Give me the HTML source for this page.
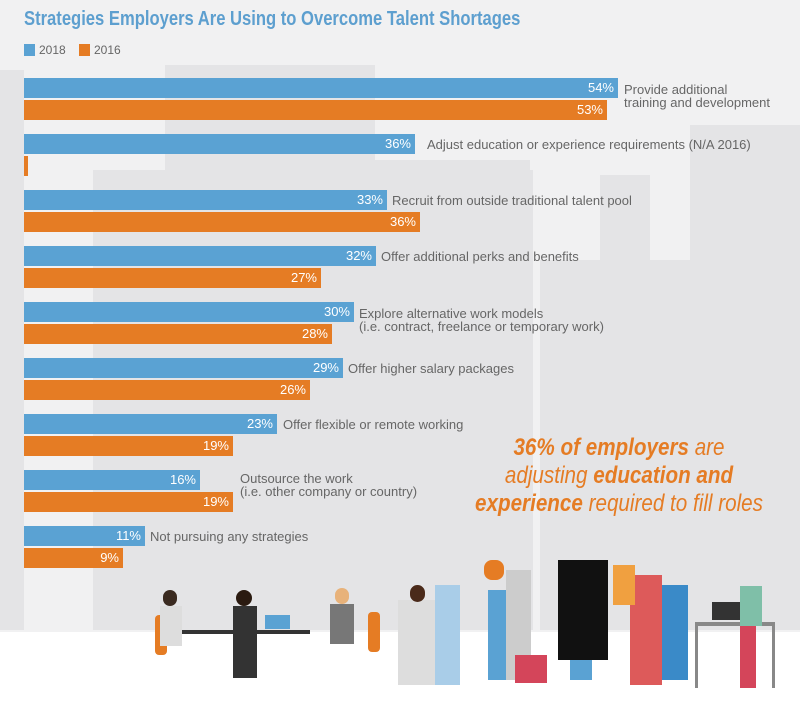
<!DOCTYPE html>
<html><head><meta charset="utf-8"><style>
*{margin:0;padding:0;box-sizing:border-box}
body{width:800px;height:708px;background:#fff;position:relative;overflow:hidden;font-family:"Liberation Sans",sans-serif}
.bg{position:absolute;left:0;top:0;width:800px;height:632px;background:#f1f1f2}
.b{position:absolute;background:#e4e4e6}
.bar{position:absolute;left:24px;height:20px;color:#fff;font-size:13px;text-align:right;padding-right:4px;line-height:20px}
.bl{background:#5aa2d3}.or{background:#e57c24}
.lab{position:absolute;color:#666;font-size:13px;line-height:13px}
.t{position:absolute;left:24px;top:8px;color:#5d9fcf;font-weight:bold;font-size:20px;white-space:nowrap;transform:scaleX(0.83);transform-origin:left top}
.p{position:absolute}
</style></head><body>
<div class="bg"></div>
<div class="b" style="left:0;top:70px;width:24px;height:560px"></div>
<div class="b" style="left:165px;top:65px;width:210px;height:565px"></div>
<div class="b" style="left:93px;top:170px;width:440px;height:460px"></div>
<div class="b" style="left:240px;top:160px;width:290px;height:470px"></div>
<div class="b" style="left:540px;top:260px;width:150px;height:370px"></div>
<div class="b" style="left:600px;top:175px;width:50px;height:90px"></div>
<div class="b" style="left:690px;top:125px;width:110px;height:505px"></div>
<div class="t">Strategies Employers Are Using to Overcome Talent Shortages</div>
<div class="p bl" style="left:24px;top:44px;width:11px;height:12px"></div>
<div class="lab" style="left:39px;top:44px;font-size:12px">2018</div>
<div class="p or" style="left:79px;top:44px;width:11px;height:12px"></div>
<div class="lab" style="left:94px;top:44px;font-size:12px">2016</div>

<div class="bar bl" style="top:78px;width:594px">54%</div>
<div class="bar or" style="top:100px;width:583px">53%</div>
<div class="lab" style="left:624px;top:83px">Provide additional<br>training and development</div>

<div class="bar bl" style="top:134px;width:391px">36%</div>
<div class="bar or" style="top:156px;width:2px"></div>
<div class="lab" style="left:427px;top:138px">Adjust education or experience requirements (N/A 2016)</div>

<div class="bar bl" style="top:190px;width:363px">33%</div>
<div class="bar or" style="top:212px;width:396px">36%</div>
<div class="lab" style="left:392px;top:194px">Recruit from outside traditional talent pool</div>

<div class="bar bl" style="top:246px;width:352px">32%</div>
<div class="bar or" style="top:268px;width:297px">27%</div>
<div class="lab" style="left:381px;top:250px">Offer additional perks and benefits</div>

<div class="bar bl" style="top:302px;width:330px">30%</div>
<div class="bar or" style="top:324px;width:308px">28%</div>
<div class="lab" style="left:359px;top:307px">Explore alternative work models<br>(i.e. contract, freelance or temporary work)</div>

<div class="bar bl" style="top:358px;width:319px">29%</div>
<div class="bar or" style="top:380px;width:286px">26%</div>
<div class="lab" style="left:348px;top:362px">Offer higher salary packages</div>

<div class="bar bl" style="top:414px;width:253px">23%</div>
<div class="bar or" style="top:436px;width:209px">19%</div>
<div class="lab" style="left:283px;top:418px">Offer flexible or remote working</div>

<div class="bar bl" style="top:470px;width:176px">16%</div>
<div class="bar or" style="top:492px;width:209px">19%</div>
<div class="lab" style="left:240px;top:472px">Outsource the work<br>(i.e. other company or country)</div>

<div class="bar bl" style="top:526px;width:121px">11%</div>
<div class="bar or" style="top:548px;width:99px">9%</div>
<div class="lab" style="left:150px;top:530px">Not pursuing any strategies</div>

<div class="p" style="left:619px;top:434px;width:0;height:0">
<div style="position:absolute;left:-220px;width:440px;text-align:center;color:#e57c24;font-size:24px;line-height:28px;font-style:italic;white-space:nowrap;transform:scaleX(0.86);transform-origin:center top"><b>36% of employers</b> are<br>adjusting <b>education and</b><br><b>experience</b> required to fill roles</div></div>

<!-- people -->
<div class="p" style="left:180px;top:630px;width:130px;height:4px;background:#333"></div>
<div class="p" style="left:155px;top:615px;width:12px;height:40px;background:#e57c24;border-radius:4px"></div>
<div class="p" style="left:163px;top:590px;width:14px;height:16px;background:#3a2a20;border-radius:7px"></div>
<div class="p" style="left:160px;top:606px;width:22px;height:40px;background:#ddd"></div>
<div class="p" style="left:236px;top:590px;width:16px;height:16px;background:#2a1a10;border-radius:8px"></div>
<div class="p" style="left:233px;top:606px;width:24px;height:72px;background:#333"></div>
<div class="p" style="left:265px;top:615px;width:25px;height:14px;background:#5aa2d3"></div>
<div class="p" style="left:335px;top:588px;width:14px;height:16px;background:#e8b27a;border-radius:7px"></div>
<div class="p" style="left:330px;top:604px;width:24px;height:40px;background:#777"></div>
<div class="p" style="left:368px;top:612px;width:12px;height:40px;background:#e57c24;border-radius:4px"></div>
<div class="p" style="left:398px;top:600px;width:40px;height:85px;background:#ddd"></div>
<div class="p" style="left:410px;top:585px;width:15px;height:17px;background:#4a2a1a;border-radius:8px"></div>
<div class="p" style="left:435px;top:585px;width:25px;height:100px;background:#a9cde8"></div>
<div class="p" style="left:484px;top:560px;width:20px;height:20px;background:#e57c24;border-radius:8px"></div>
<div class="p" style="left:488px;top:590px;width:20px;height:90px;background:#5aa2d3"></div>
<div class="p" style="left:506px;top:570px;width:25px;height:110px;background:#ccc"></div>
<div class="p" style="left:515px;top:655px;width:32px;height:28px;background:#d4455a"></div>
<div class="p" style="left:558px;top:560px;width:50px;height:100px;background:#111"></div>
<div class="p" style="left:570px;top:660px;width:22px;height:20px;background:#5aa2d3"></div>
<div class="p" style="left:630px;top:575px;width:32px;height:110px;background:#dd5a5a"></div>
<div class="p" style="left:613px;top:565px;width:22px;height:40px;background:#f0a040"></div>
<div class="p" style="left:662px;top:585px;width:26px;height:95px;background:#3a8ac8"></div>
<div class="p" style="left:695px;top:622px;width:80px;height:4px;background:#888"></div>
<div class="p" style="left:695px;top:626px;width:3px;height:62px;background:#888"></div>
<div class="p" style="left:772px;top:626px;width:3px;height:62px;background:#888"></div>
<div class="p" style="left:712px;top:602px;width:28px;height:18px;background:#333"></div>
<div class="p" style="left:740px;top:586px;width:22px;height:40px;background:#7fbfa8"></div>
<div class="p" style="left:740px;top:626px;width:16px;height:62px;background:#d4455a"></div>
</body></html>
